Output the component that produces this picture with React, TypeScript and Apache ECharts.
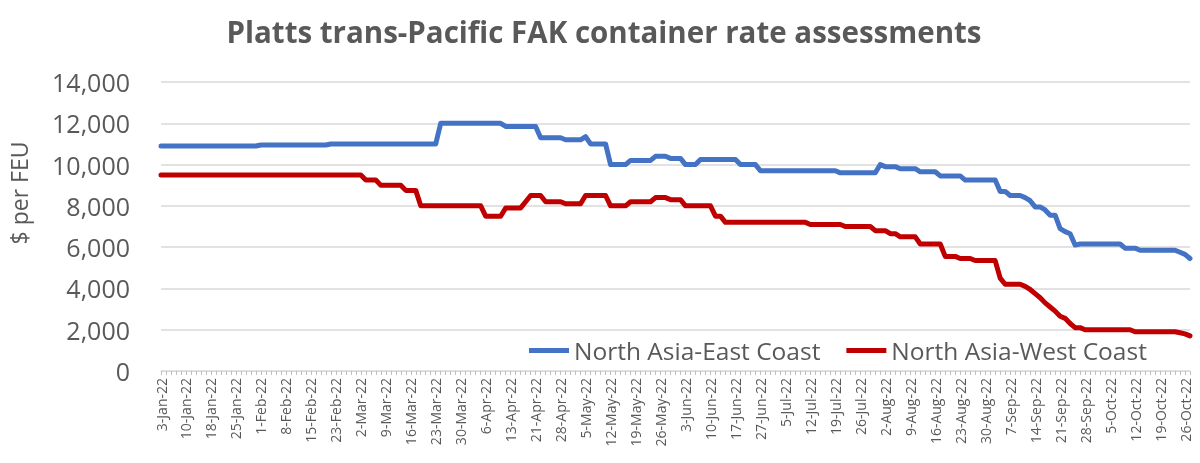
import { useEffect, useRef } from "react";
import * as echarts from "echarts";

// assessment days (business days, 2022)
const monthDays: [string, number[]][] = [
  ["Jan", [3, 4, 5, 6, 7, 10, 11, 12, 13, 14, 18, 19, 20, 21, 24, 25, 26, 27, 28, 31]],
  ["Feb", [1, 2, 3, 4, 7, 8, 9, 10, 11, 14, 15, 16, 17, 18, 22, 23, 24, 25, 28]],
  ["Mar", [1, 2, 3, 4, 7, 8, 9, 10, 11, 14, 15, 16, 17, 18, 21, 22, 23, 24, 25, 28, 29, 30, 31]],
  ["Apr", [1, 4, 5, 6, 7, 8, 11, 12, 13, 14, 18, 19, 20, 21, 22, 25, 26, 27, 28, 29]],
  ["May", [2, 3, 4, 5, 6, 9, 10, 11, 12, 13, 16, 17, 18, 19, 20, 23, 24, 25, 26, 27, 31]],
  ["Jun", [1, 2, 3, 6, 7, 8, 9, 10, 13, 14, 15, 16, 17, 21, 22, 23, 24, 27, 28, 29, 30]],
  ["Jul", [1, 5, 6, 7, 8, 11, 12, 13, 14, 15, 18, 19, 20, 21, 22, 25, 26, 27, 28, 29]],
  ["Aug", [1, 2, 3, 4, 5, 8, 9, 10, 11, 12, 15, 16, 17, 18, 19, 22, 23, 24, 25, 26, 29, 30, 31]],
  ["Sep", [1, 2, 6, 7, 8, 9, 12, 13, 14, 15, 16, 19, 20, 21, 22, 23, 26, 27, 28, 29, 30]],
  ["Oct", [3, 4, 5, 6, 7, 10, 11, 12, 13, 14, 17, 18, 19, 20, 21, 24, 25, 26, 27]],
];
const dates = monthDays.flatMap(([m, days]) => days.map(d => `${d}-${m}-22`));

// $ per FEU
const eastCoast = [
  10900, 10900, 10900, 10900, 10900, 10900, 10900, 10900, 10900, 10900,
  10900, 10900, 10900, 10900, 10900, 10900, 10900, 10900, 10900, 10900,
  10950, 10950, 10950, 10950, 10950, 10950, 10950, 10950, 10950, 10950,
  10950, 10950, 10950, 10950,
  11000, 11000, 11000, 11000, 11000, 11000, 11000, 11000, 11000, 11000,
  11000, 11000, 11000, 11000, 11000, 11000, 11000, 11000, 11000, 11000,
  11000, 11000,
  12000, 12000, 12000, 12000, 12000, 12000, 12000, 12000, 12000, 12000,
  12000, 12000, 12000,
  11850, 11850, 11850, 11850, 11850, 11850, 11850,
  11300, 11300, 11300, 11300, 11300,
  11200, 11200, 11200, 11200, 11350,
  11000, 11000, 11000, 11000,
  10000, 10000, 10000, 10000,
  10200, 10200, 10200, 10200, 10200,
  10400, 10400, 10400, 10300, 10300, 10300,
  10000, 10000, 10000,
  10250, 10250, 10250, 10250, 10250, 10250, 10250, 10250,
  10000, 10000, 10000, 10000,
  9700, 9700, 9700, 9700, 9700, 9700, 9700, 9700, 9700, 9700,
  9700, 9700, 9700, 9700, 9700, 9700,
  9600, 9600, 9600, 9600, 9600, 9600, 9600, 9600,
  10000, 9900, 9900, 9900,
  9800, 9800, 9800, 9800,
  9650, 9650, 9650, 9650,
  9450, 9450, 9450, 9450, 9450,
  9250, 9250, 9250, 9250, 9250, 9250, 9250,
  8700, 8700, 8500, 8500, 8500,
  8400, 8250, 7950, 7950, 7800, 7550, 7550, 6900, 6750, 6650, 6100,
  6150, 6150, 6150, 6150, 6150, 6150, 6150, 6150, 6150,
  5950, 5950, 5950,
  5850, 5850, 5850, 5850, 5850, 5850, 5850, 5850,
  5750, 5650, 5450,
];

const westCoast = [
  9500, 9500, 9500, 9500, 9500, 9500, 9500, 9500, 9500, 9500,
  9500, 9500, 9500, 9500, 9500, 9500, 9500, 9500, 9500, 9500,
  9500, 9500, 9500, 9500, 9500, 9500, 9500, 9500, 9500, 9500,
  9500, 9500, 9500, 9500, 9500, 9500, 9500, 9500, 9500, 9500,
  9500,
  9250, 9250, 9250,
  9000, 9000, 9000, 9000, 9000,
  8750, 8750, 8750,
  8000, 8000, 8000, 8000, 8000, 8000, 8000, 8000, 8000, 8000,
  8000, 8000, 8000,
  7500, 7500, 7500, 7500,
  7900, 7900, 7900, 7900,
  8200, 8500, 8500, 8500,
  8200, 8200, 8200, 8200,
  8100, 8100, 8100, 8100,
  8500, 8500, 8500, 8500, 8500,
  8000, 8000, 8000, 8000,
  8200, 8200, 8200, 8200, 8200,
  8400, 8400, 8400, 8300, 8300, 8300,
  8000, 8000, 8000, 8000, 8000, 8000,
  7500, 7500,
  7200, 7200, 7200, 7200, 7200, 7200, 7200, 7200, 7200, 7200,
  7200, 7200, 7200, 7200, 7200, 7200, 7200,
  7100, 7100, 7100, 7100, 7100, 7100, 7100,
  7000, 7000, 7000, 7000, 7000, 7000,
  6800, 6800, 6800, 6650, 6650,
  6500, 6500, 6500, 6500,
  6150, 6150, 6150, 6150, 6150,
  5550, 5550, 5550, 5450, 5450, 5450,
  5350, 5350, 5350, 5350, 5350,
  4500, 4200, 4200, 4200, 4200,
  4100, 3950, 3750, 3550, 3300, 3100, 2900, 2650, 2550, 2300,
  2100, 2100,
  2000, 2000, 2000, 2000, 2000, 2000, 2000, 2000, 2000, 2000,
  1900, 1900, 1900, 1900, 1900, 1900, 1900, 1900, 1900,
  1850, 1800, 1700,
];

const yTicks = [0, 2000, 4000, 6000, 8000, 10000, 12000, 14000];

const FONT = "'Open Sans', 'Noto Sans', sans-serif";
const TEXT = "#595959";
const GRID = "#d9d9d9";

export default function App() {
  const domRef = useRef<HTMLDivElement>(null);

  useEffect(() => {
    if (!domRef.current) return;
    const chart = echarts.init(domRef.current, undefined, { renderer: "svg" });
    chart.setOption({
      animation: false,
      textStyle: { fontFamily: FONT },
      graphic: [
        {
          type: "text",
          x: 604,
          y: 31,
          style: {
            text: "Platts trans-Pacific FAK container rate assessments",
            font: `bold 29.5px ${FONT}`,
            fill: TEXT,
            textAlign: "center",
            textVerticalAlign: "middle",
          },
        },
        {
          type: "text",
          x: 19,
          y: 193,
          rotation: Math.PI / 2,
          style: {
            text: "$ per FEU",
            font: `23px ${FONT}`,
            fill: TEXT,
            textAlign: "center",
            textVerticalAlign: "middle",
          },
        },
      ],
      legend: {
        data: ["North Asia-East Coast", "North Asia-West Coast"],
        left: 524,
        top: 333,
        icon: "rect",
        itemWidth: 40,
        itemHeight: 5,
        itemGap: 26,
        textStyle: { fontFamily: FONT, fontSize: 24.5, color: TEXT },
      },
      grid: { left: 161, right: 10, top: 82, bottom: 92, outerBoundsMode: "none" },
      xAxis: {
        type: "category",
        data: dates,
        boundaryGap: false,
        axisLine: { lineStyle: { color: GRID, width: 1 } },
        axisTick: { show: true, interval: 0, length: 4, lineStyle: { color: "#bfbfbf" } },
        axisLabel: { interval: 4, rotate: 90, fontSize: 14, color: TEXT, margin: 7, fontFamily: FONT },
        splitLine: { show: false },
      },
      yAxis: {
        type: "value",
        min: yTicks[0],
        max: yTicks[yTicks.length - 1],
        interval: 2000,
        axisLine: { show: false },
        axisTick: { show: false },
        axisLabel: {
          fontSize: 25,
          color: TEXT,
          margin: 31,
          fontFamily: FONT,
          formatter: (v: number) => v.toLocaleString("en-US"),
        },
        splitLine: { lineStyle: { color: GRID, width: 1.5 } },
      },
      series: [
        {
          name: "North Asia-East Coast",
          type: "line",
          data: eastCoast,
          symbol: "none",
          color: "#4472c4",
          lineStyle: { width: 5, color: "#4472c4", join: "round", cap: "round" },
        },
        {
          name: "North Asia-West Coast",
          type: "line",
          data: westCoast,
          symbol: "none",
          color: "#c00000",
          lineStyle: { width: 5, color: "#c00000", join: "round", cap: "round" },
        },
      ],
    });
    return () => chart.dispose();
  }, []);

  return <div ref={domRef} style={{ position: "fixed", left: 0, top: 0, width: 1200, height: 463 }} />;
}
